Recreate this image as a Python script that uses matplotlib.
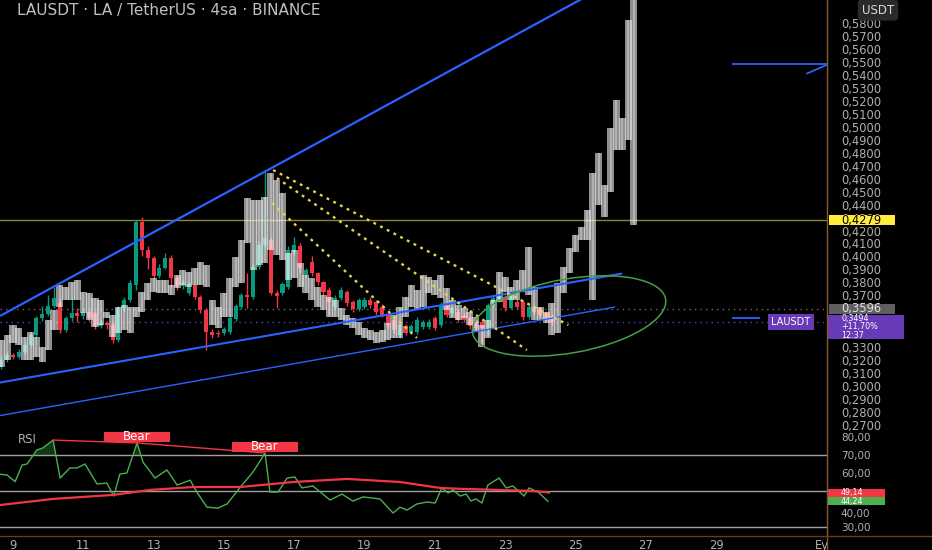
import matplotlib
matplotlib.use('Agg')
import matplotlib.pyplot as plt
import numpy as np
from matplotlib.patches import Ellipse, Rectangle
from matplotlib.transforms import ScaledTranslation
from matplotlib.lines import Line2D

plt.rcParams['font.family'] = ['DejaVu Sans']

# ---------------- data ----------------
title = "LAUSDT · LA / TetherUS · 4sa · BINANCE"
candle_start = 8 + 16 / 24      # Aug 8, 16:00
candle_step = 4 / 24            # 4h candles

c_open = [0.3146, 0.3200, 0.3239, 0.3224, 0.3262, 0.3317, 0.3394, 0.3524, 0.3555, 0.3617,
          0.3640, 0.3432, 0.3524, 0.3563, 0.3540, 0.3571, 0.3560, 0.3463, 0.3486, 0.3471,
          0.3355, 0.3602, 0.3663, 0.3779, 0.4266, 0.4050, 0.3988, 0.3849, 0.3911, 0.3988,
          0.3834, 0.3770, 0.3717, 0.3779, 0.3687, 0.3586, 0.3417, 0.3409, 0.3409, 0.3417,
          0.3517, 0.3609, 0.3702, 0.3687, 0.3919, 0.4089, 0.4127, 0.3717, 0.3717, 0.3764,
          0.4034, 0.4081, 0.3857, 0.3957, 0.3872, 0.3803, 0.3741, 0.3609, 0.3679, 0.3725,
          0.3648, 0.3594, 0.3609, 0.3663, 0.3648, 0.3609, 0.3548, 0.3509, 0.3394, 0.3463,
          0.3417, 0.3417, 0.3455, 0.3455, 0.3524, 0.3471, 0.3625, 0.3563, 0.3571, 0.3540,
          0.3524, 0.3509, 0.3494, 0.3432, 0.3625, 0.3670, 0.3687, 0.3602, 0.3648, 0.3648,
          0.3532, 0.3609, 0.3602, 0.3563, 0.3540]
c_close = [0.3200, 0.3239, 0.3224, 0.3262, 0.3317, 0.3394, 0.3524, 0.3555, 0.3617, 0.3679,
           0.3432, 0.3524, 0.3563, 0.3540, 0.3571, 0.3524, 0.3463, 0.3486, 0.3471, 0.3355,
           0.3602, 0.3663, 0.3795, 0.4266, 0.4050, 0.3988, 0.3849, 0.3911, 0.3988, 0.3834,
           0.3770, 0.3795, 0.3787, 0.3687, 0.3586, 0.3417, 0.3394, 0.3402, 0.3440, 0.3524,
           0.3617, 0.3702, 0.3687, 0.3919, 0.4089, 0.4142, 0.3717, 0.3694, 0.3787, 0.4050,
           0.4089, 0.3911, 0.3896, 0.3872, 0.3803, 0.3725, 0.3648, 0.3679, 0.3741, 0.3640,
           0.3594, 0.3663, 0.3663, 0.3625, 0.3571, 0.3548, 0.3471, 0.3432, 0.3471, 0.3409,
           0.3463, 0.3509, 0.3494, 0.3494, 0.3448, 0.3625, 0.3548, 0.3602, 0.3509, 0.3509,
           0.3463, 0.3448, 0.3448, 0.3625, 0.3679, 0.3702, 0.3602, 0.3702, 0.3609, 0.3532,
           0.3609, 0.3571, 0.3548, 0.3517, 0.3494]
c_high = [0.3230, 0.3262, 0.3255, 0.3285, 0.3340, 0.3410, 0.3540, 0.3620, 0.3700, 0.3760,
          0.3680, 0.3540, 0.3670, 0.3600, 0.3600, 0.3590, 0.3580, 0.3510, 0.3500, 0.3490,
          0.3620, 0.3690, 0.3820, 0.4280, 0.4305, 0.4080, 0.4000, 0.3940, 0.4030, 0.4010,
          0.3850, 0.3820, 0.3800, 0.3790, 0.3700, 0.3600, 0.3440, 0.3430, 0.3455, 0.3540,
          0.3630, 0.3720, 0.3872, 0.3940, 0.4120, 0.4668, 0.4150, 0.3740, 0.3800, 0.4080,
          0.4150, 0.4100, 0.3910, 0.4000, 0.3880, 0.3810, 0.3760, 0.3700, 0.3760, 0.3740,
          0.3660, 0.3680, 0.3690, 0.3690, 0.3660, 0.3630, 0.3560, 0.3530, 0.3490, 0.3480,
          0.3480, 0.3530, 0.3510, 0.3520, 0.3540, 0.3650, 0.3640, 0.3620, 0.3590, 0.3560,
          0.3540, 0.3520, 0.3510, 0.3640, 0.3700, 0.3760, 0.3700, 0.3720, 0.3670, 0.3660,
          0.3630, 0.3625, 0.3610, 0.3580, 0.3555]
c_low = [0.3130, 0.3185, 0.3205, 0.3210, 0.3250, 0.3300, 0.3380, 0.3500, 0.3540, 0.3600,
         0.3410, 0.3420, 0.3500, 0.3490, 0.3520, 0.3500, 0.3440, 0.3450, 0.3440, 0.3330,
         0.3340, 0.3580, 0.3650, 0.3740, 0.4000, 0.3900, 0.3830, 0.3830, 0.3900, 0.3760,
         0.3740, 0.3750, 0.3700, 0.3670, 0.3560, 0.3278, 0.3370, 0.3380, 0.3390, 0.3400,
         0.3500, 0.3590, 0.3600, 0.3670, 0.3900, 0.4060, 0.3700, 0.3602, 0.3700, 0.3750,
         0.4010, 0.3880, 0.3840, 0.3850, 0.3780, 0.3700, 0.3548, 0.3590, 0.3660, 0.3620,
         0.3570, 0.3580, 0.3590, 0.3600, 0.3550, 0.3530, 0.3450, 0.3410, 0.3370, 0.3390,
         0.3400, 0.3400, 0.3440, 0.3440, 0.3430, 0.3455, 0.3530, 0.3550, 0.3490, 0.3490,
         0.3440, 0.3430, 0.3317, 0.3394, 0.3610, 0.3650, 0.3580, 0.3590, 0.3590, 0.3510,
         0.3520, 0.3555, 0.3530, 0.3500, 0.3470]

# grey ghost overlay bars (top / bottom of each block)
ghost_high = [0.3354, 0.3393, 0.3470, 0.3447, 0.3378, 0.3416, 0.3378, 0.3300, 0.3509, 0.3586,
              0.3779, 0.3764, 0.3802, 0.3818, 0.3725, 0.3717, 0.3679, 0.3663, 0.3571, 0.3548,
              0.3609, 0.3625, 0.3609, 0.3609, 0.3725, 0.3795, 0.3833, 0.3818, 0.3818, 0.3779,
              0.3856, 0.3895, 0.3880, 0.3911, 0.3957, 0.3934, 0.3663, 0.3609, 0.3717, 0.3833,
              0.3995, 0.4127, 0.4451, 0.4436, 0.4436, 0.4459, 0.4644, 0.4590, 0.4490, 0.4026,
              0.4050, 0.3949, 0.3856, 0.3833, 0.3764, 0.3702, 0.3687, 0.3663, 0.3601, 0.3548,
              0.3524, 0.3494, 0.3447, 0.3432, 0.3416, 0.3432, 0.3486, 0.3548, 0.3609, 0.3687,
              0.3779, 0.3740, 0.3856, 0.3841, 0.3818, 0.3856, 0.3756, 0.3663, 0.3625, 0.3601,
              0.3571, 0.3532, 0.3470, 0.3509, 0.3663, 0.3880, 0.3841, 0.3764, 0.3818, 0.3895,
              0.4073, 0.3764, 0.3609, 0.3571, 0.3640, 0.3795, 0.3918, 0.4065, 0.4165, 0.4227,
              0.4358, 0.4644, 0.4798, 0.4551, 0.4992, 0.5208, 0.5069, 0.5826, 0.6019]
ghost_low = [0.3146, 0.3200, 0.3331, 0.3316, 0.3200, 0.3200, 0.3223, 0.3185, 0.3277, 0.3432,
             0.3609, 0.3663, 0.3663, 0.3663, 0.3563, 0.3509, 0.3455, 0.3470, 0.3524, 0.3378,
             0.3408, 0.3432, 0.3408, 0.3532, 0.3571, 0.3663, 0.3725, 0.3717, 0.3717, 0.3702,
             0.3756, 0.3779, 0.3764, 0.3779, 0.3779, 0.3764, 0.3470, 0.3447, 0.3532, 0.3532,
             0.3764, 0.3795, 0.4104, 0.3895, 0.3934, 0.3949, 0.4050, 0.4011, 0.3972, 0.3818,
             0.3833, 0.3764, 0.3717, 0.3663, 0.3609, 0.3586, 0.3532, 0.3532, 0.3509, 0.3470,
             0.3447, 0.3393, 0.3370, 0.3354, 0.3331, 0.3339, 0.3354, 0.3370, 0.3370, 0.3532,
             0.3609, 0.3586, 0.3609, 0.3717, 0.3702, 0.3679, 0.3586, 0.3524, 0.3509, 0.3524,
             0.3470, 0.3416, 0.3300, 0.3370, 0.3447, 0.3648, 0.3725, 0.3663, 0.3663, 0.3725,
             0.3702, 0.3509, 0.3509, 0.3486, 0.3393, 0.3408, 0.3717, 0.3872, 0.4034, 0.4127,
             0.4127, 0.3663, 0.4397, 0.4304, 0.4497, 0.4822, 0.4822, 0.4899, 0.4242]

# RSI (time in days of August, value)
rsi_days = [8.63, 8.83, 9.06, 9.26, 9.40, 9.68, 9.85, 10.14, 10.34, 10.62, 10.82, 11.05, 11.39,
            11.67, 11.87, 12.04, 12.24, 12.53, 12.70, 13.04, 13.38, 13.67, 14.04, 14.23, 14.52,
            14.83, 15.09, 15.54, 15.83, 16.17, 16.31, 16.54, 16.80, 17.02, 17.22, 17.53, 18.02,
            18.36, 18.67, 18.96, 19.44, 19.81, 20.01, 20.21, 20.49, 20.78, 21.01, 21.20, 21.38,
            21.52, 21.72, 21.89, 22.03, 22.17, 22.34, 22.51, 22.83, 23.03, 23.22, 23.54, 23.68,
            23.94, 24.22]
rsi_vals = [59.3, 58.9, 55.2, 64.4, 65.0, 72.8, 73.9, 78.3, 57.2, 62.8, 62.8, 65.0, 53.9,
            54.4, 47.2, 59.4, 60.0, 76.7, 66.0, 57.2, 61.7, 53.3, 56.0, 49.4, 41.0,
            40.5, 42.8, 53.9, 60.6, 71.1, 49.4, 49.4, 57.2, 57.8, 51.7, 52.8, 45.0,
            48.3, 44.4, 46.7, 45.6, 37.8, 41.0, 39.4, 42.8, 43.9, 43.3, 51.7, 48.9,
            50.6, 47.2, 48.3, 44.4, 45.6, 43.3, 53.3, 57.2, 51.7, 52.8, 47.2, 51.7,
            49.4, 44.24]
ma_days = [8.63, 10.14, 11.84, 12.90, 14.12, 15.46, 16.97, 18.50, 20.01, 21.15, 21.89, 22.83, 23.79, 24.25]
ma_vals = [42.2, 45.6, 47.8, 50.6, 52.2, 52.2, 55.0, 56.7, 55.0, 51.7, 51.1, 50.6, 50.0, 49.14]
bear_days = [12.53, 16.17]
bear_vals = [76.7, 71.1]
div_start = (10.14, 78.3)

price_ticks = [round(0.27 + 0.01 * k, 2) for k in range(32)]
hidden_price_ticks = [0.34, 0.35, 0.36]     # covered by the price tags
rsi_ticks = [30, 40, 60, 70, 80]
date_ticks = [9, 11, 13, 15, 17, 19, 21, 23, 25, 27, 29, 32]
date_labels = ['9', '11', '13', '15', '17', '19', '21', '23', '25', '27', '29', 'Ey']

hline_price = 0.4279
ghost_price = 0.3596
last_price = 0.3494

# drawings (day, price)
wedge_upper = [(8.63, 0.3540), (25.70, 0.6065)]
wedge_lower = [(8.63, 0.3026), (26.33, 0.3868)]
wedge_lower2 = [(8.63, 0.2771), (26.13, 0.3609)]
fib_lines = [[(16.40, 0.4667), (24.80, 0.3470)],
             [(16.51, 0.4605), (23.62, 0.3277)],
             [(16.37, 0.4412), (20.49, 0.3370)]]
ray_top = [(29.46, 0.5486), (32.16, 0.5486)]
ray_top2 = [(31.57, 0.5410), (32.16, 0.5480)]
ray_mid = [(29.46, 0.3525), (30.25, 0.3525)]
ellipse_center = (24.82, 0.3540)

# ---------------- figure ----------------
W, H = 932, 550
fig = plt.figure(figsize=(W / 100, H / 100), dpi=100, facecolor='black')
PX_R = 827


def px_axes(x0, y0, x1, y1):
    return fig.add_axes([x0 / W, 1 - y1 / H, (x1 - x0) / W, (y1 - y0) / H])


ax = px_axes(0, 0, PX_R, 430)
axr = px_axes(0, 430, PX_R, 536)
XLIM = (8.6302, 32.158)
for a in (ax, axr):
    a.set_facecolor('black')
    a.set_xlim(*XLIM)
    for s in a.spines.values():
        s.set_visible(False)
ax.set_ylim(0.26595, 0.59799)
axr.set_ylim(25.0, 83.89)

GREEN = '#089981'
RED = '#f23645'
BLUE = '#2962ff'
LABEL = '#b0b0b0'

# candles
o = np.array(c_open); c = np.array(c_close); hi = np.array(c_high); lo = np.array(c_low)
t = candle_start + np.arange(len(o)) * candle_step
cols = np.where(c >= o, GREEN, RED)
ax.vlines(t, lo, hi, colors=cols, lw=1, zorder=2)
ax.bar(t, np.maximum(np.abs(c - o), 0.0009), bottom=np.minimum(o, c), width=0.115,
       color=cols, lw=0, zorder=2.1)

# ghost bars
gh = np.array(ghost_high); gl = np.array(ghost_low)
gt = candle_start + np.arange(len(gh)) * candle_step
ax.bar(gt, gh - gl, bottom=gl, width=0.2, color='#f0f0f0', alpha=0.6, lw=0, zorder=3)
ax.vlines(gt, gl, gh, colors='white', alpha=0.35, lw=1.3, zorder=3.1)

# horizontal lines
ax.axhline(hline_price, color='#8c8634', lw=1, zorder=1.5)
ax.axhline(ghost_price, color='#6a6a6a', lw=1, ls=(0, (1, 3)), zorder=1.5)
ax.axhline(last_price, color='#5a48b0', lw=1, ls=(0, (1, 3)), zorder=1.5)

# wedge and rays
for seg, lw in ((wedge_upper, 1.6), (wedge_lower, 1.5), (wedge_lower2, 1.0),
                (ray_top, 1.3), (ray_top2, 1.3), (ray_mid, 1.3)):
    xs, ys = zip(*seg)
    ax.plot(xs, ys, color=BLUE, lw=lw, zorder=4, solid_capstyle='butt')
for seg in fib_lines:
    xs, ys = zip(*seg)
    ax.plot(xs, ys, color='#e6d54a', lw=1.7, ls=(0, (1.2, 2.0)), zorder=4.2)

# ellipse (size in pixels around a data centre)
etr = fig.dpi_scale_trans + ScaledTranslation(ellipse_center[0], ellipse_center[1], ax.transData)
ax.add_patch(Ellipse((0, 0), 1.96, 0.74, angle=10, transform=etr, fill=False,
                     ec='#43a047', lw=1.1, zorder=4.5))

# price axis
ax.yaxis.tick_right()
ax.set_yticks(price_ticks)
ax.set_yticklabels(['' if v in hidden_price_ticks else f"{v:.4f}".replace('.', ',')
                    for v in price_ticks])
ax.tick_params(axis='y', length=0, pad=10, labelsize=8.3, labelcolor=LABEL)
ax.set_xticks([])


def axis_box(a, hpx_total, yval, text, fc, tc, x0=829, x1=895, hpx=10, fs=8.3, ls=1.0, tx=841):
    y0d, y1d = a.get_ylim()
    ppx = (y1d - y0d) / hpx_total
    tr = a.get_yaxis_transform()
    a.add_patch(Rectangle((x0 / PX_R, yval - hpx / 2 * ppx), (x1 - x0) / PX_R, hpx * ppx,
                          transform=tr, fc=fc, ec='none', clip_on=False, zorder=20))
    a.text(tx / PX_R, yval, text, transform=tr, ha='left', va='center', fontsize=fs,
           color=tc, zorder=21, clip_on=False, linespacing=ls)


axis_box(ax, 430, hline_price, '0,4279', '#ffeb3b', 'black')
axis_box(ax, 430, ghost_price, '0,3596', '#5f5f5f', '#e0e0e0')
axis_box(ax, 430, 0.3455, '0,3494\n+11,70%\n12:37', '#673ab7', 'white', x0=827, x1=904,
         hpx=24, fs=5.8, ls=0.95)
ax.text(31.13, last_price, 'LAUSDT', ha='center', va='center', fontsize=7, color='white',
        zorder=21, bbox=dict(boxstyle='square,pad=0.35', fc='#673ab7', ec='none'))

# RSI pane
axr.axhline(70, color='#a0a0a0', lw=1)
axr.axhline(50, color='#a0a0a0', lw=1)
axr.axhline(30, color='#a0a0a0', lw=1)
rd = np.array(rsi_days); rv = np.array(rsi_vals)
axr.fill_between(rd, 70, rv, where=rv > 70, interpolate=True, color='#1b5e20', alpha=0.6, lw=0)
axr.plot(rd, rv, color='#4caf50', lw=1, zorder=3)
axr.plot(ma_days, ma_vals, color=RED, lw=1.6, zorder=3.2)
axr.plot([div_start[0], bear_days[0]], [div_start[1], bear_vals[0]], color=RED, lw=1, zorder=3)
axr.plot([bear_days[0], bear_days[1]], [bear_vals[0], bear_vals[1]], color=RED, lw=1, zorder=3)
for d, v in zip(bear_days, bear_vals):
    axr.add_patch(Rectangle((d - 0.95, v + 0.5), 1.9, 5.8, fc=RED, ec='none', zorder=5))
    axr.text(d, v + 3.4, 'Bear', ha='center', va='center', fontsize=8.5, color='white', zorder=6)
axr.text(18 / PX_R, 0.915, 'RSI', transform=axr.transAxes, ha='left', va='center',
         fontsize=8.5, color=LABEL)

axr.yaxis.tick_right()
axr.set_yticks(rsi_ticks)
axr.set_yticklabels([f"{v:.2f}".replace('.', ',') for v in rsi_ticks])
axr.tick_params(axis='y', length=0, pad=10, labelsize=7.5, labelcolor=LABEL)
# nudge the 40,00 label slightly down so the RSI tag does not hide it
axr.get_yticklabels()[1].set_va('top')
axr.set_xticks(date_ticks)
axr.set_xticklabels(date_labels)
axr.tick_params(axis='x', length=0, pad=2, labelsize=8.3, labelcolor=LABEL)

axis_box(axr, 106, ma_vals[-1], '49,14', RED, 'white', x0=827, x1=885, hpx=8, fs=5.8)
axis_box(axr, 106, rsi_vals[-1], '44,24', '#4caf50', 'white', x0=827, x1=885, hpx=8, fs=5.8)

# frame lines
fig.add_artist(Line2D([PX_R / W, PX_R / W], [0, 1], transform=fig.transFigure, color='#8b5a2b', lw=1))
fig.add_artist(Line2D([0, 1], [1 - 536 / H, 1 - 536 / H], transform=fig.transFigure, color='#6b3f14', lw=1))

# title and currency box
fig.text(17 / W, 1 - 10 / H, title, ha='left', va='center', fontsize=11, color='#c0c0c0')
fig.text(878 / W, 1 - 10 / H, 'USDT', ha='center', va='center', fontsize=8.5, color='#d8d8d8',
         bbox=dict(boxstyle='round,pad=0.35', fc='#2a2a2a', ec='none'))

fig.savefig('out.png', dpi=100, facecolor='black')
